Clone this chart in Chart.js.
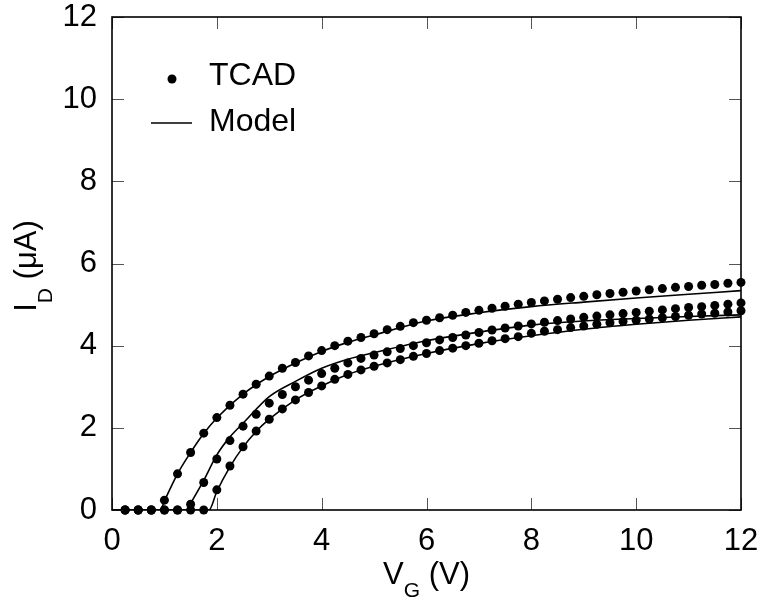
<!DOCTYPE html>
<html>
<head>
<meta charset="utf-8">
<script src="https://cdn.jsdelivr.net/npm/chart.js@4/dist/chart.umd.min.js"></script>
<style>
  html, body { margin: 0; padding: 0; background: #fff; }
  #wrap { width: 762px; height: 601px; position: relative; }
</style>
</head>
<body>
<div id="wrap"><canvas id="chart"></canvas></div>
<script>
// gate voltage grid of the TCAD points (V)
const vg = [0.25, 0.5, 0.75, 1.0, 1.25, 1.5, 1.75, 2.0, 2.25, 2.5, 2.75, 3.0,
  3.25, 3.5, 3.75, 4.0, 4.25, 4.5, 4.75, 5.0, 5.25, 5.5, 5.75, 6.0,
  6.25, 6.5, 6.75, 7.0, 7.25, 7.5, 7.75, 8.0, 8.25, 8.5, 8.75, 9.0,
  9.25, 9.5, 9.75, 10.0, 10.25, 10.5, 10.75, 11.0, 11.25, 11.5, 11.75, 12.0];

// TCAD drain current (uA)
const tcadA = [0, 0, 0, 0.24, 0.88, 1.40, 1.87, 2.25, 2.55, 2.82, 3.06, 3.26,
  3.45, 3.59, 3.75, 3.88, 4.00, 4.11, 4.20, 4.29, 4.39, 4.47, 4.56, 4.62,
  4.68, 4.74, 4.81, 4.86, 4.91, 4.96, 5.01, 5.05, 5.09, 5.13, 5.17, 5.20,
  5.24, 5.27, 5.30, 5.33, 5.36, 5.39, 5.42, 5.44, 5.47, 5.49, 5.52, 5.54];
const tcadB = [0, 0, 0, 0, 0, 0.14, 0.67, 1.24, 1.69, 2.04, 2.33, 2.60,
  2.81, 3.00, 3.16, 3.32, 3.45, 3.58, 3.69, 3.77, 3.85, 3.93, 4.00, 4.07,
  4.14, 4.20, 4.26, 4.32, 4.38, 4.43, 4.48, 4.53, 4.57, 4.61, 4.65, 4.69,
  4.72, 4.75, 4.78, 4.81, 4.84, 4.87, 4.90, 4.93, 4.95, 4.98, 5.01, 5.04];
const tcadC = [0, 0, 0, 0, 0, 0, 0, 0.49, 1.07, 1.54, 1.92, 2.21,
  2.46, 2.68, 2.86, 3.02, 3.18, 3.30, 3.41, 3.50, 3.58, 3.66, 3.74, 3.81,
  3.88, 3.94, 4.00, 4.06, 4.12, 4.17, 4.22, 4.30, 4.35, 4.39, 4.44, 4.48,
  4.52, 4.56, 4.59, 4.62, 4.65, 4.68, 4.71, 4.74, 4.77, 4.79, 4.82, 4.85];

// model curves
const modelAx = [0, 0.92, 1.0, 1.25, 1.5, 1.75, 2.0, 2.5, 3.0, 3.5, 4.0, 4.5, 5, 6, 7, 8, 9, 10, 11, 12];
const modelAy = [0, 0, 0.22, 0.88, 1.40, 1.86, 2.24, 2.82, 3.25, 3.58, 3.86, 4.08, 4.26, 4.60, 4.80, 4.95, 5.06, 5.16, 5.25, 5.34];
const modelBx = [0, 1.43, 1.5, 1.75, 2.0, 2.25, 2.5, 3.0, 3.5, 4.0, 4.5, 5, 6, 7, 8, 9, 10, 11, 12];
const modelBy = [0, 0, 0.16, 0.72, 1.34, 1.78, 2.11, 2.76, 3.13, 3.45, 3.67, 3.83, 4.12, 4.33, 4.50, 4.60, 4.66, 4.71, 4.75];
const modelCx = [0, 1.85, 2.0, 2.25, 2.5, 2.75, 3.0, 3.5, 4.0, 4.5, 5, 6, 7, 8, 9, 10, 11, 12];
const modelCy = [0, 0, 0.45, 1.05, 1.53, 1.91, 2.21, 2.68, 3.02, 3.30, 3.50, 3.81, 4.05, 4.24, 4.40, 4.52, 4.62, 4.70];

const xTicks = [0, 2, 4, 6, 8, 10, 12];
const yTicks = [0, 2, 4, 6, 8, 10, 12];

const FONT = "'Liberation Sans', Arial, sans-serif";

function pts(xs, ys) {
  return xs.map((x, i) => ({ x: x, y: ys[i] }));
}

function tcadSet(ys) {
  return {
    data: pts(vg, ys),
    showLine: false,
    pointRadius: 4.5,
    pointBackgroundColor: '#000',
    pointBorderWidth: 0,
    clip: false
  };
}

function modelSet(xs, ys) {
  return {
    data: pts(xs, ys),
    showLine: true,
    borderColor: '#000',
    borderWidth: 1.6,
    pointRadius: 0,
    cubicInterpolationMode: 'monotone',
    fill: false
  };
}

// frame, inward ticks, axis titles and legend
const decor = {
  id: 'decor',
  afterDatasetsDraw(chart) {
    const c = chart.ctx;
    const a = chart.chartArea;
    const xs = chart.scales.x, ys = chart.scales.y;
    const tl = 12;
    c.save();
    c.strokeStyle = '#555';
    c.lineWidth = 1;
    xTicks.forEach(v => {
      const px = Math.round(xs.getPixelForValue(v)) + 0.5;
      c.beginPath();
      c.moveTo(px, a.bottom); c.lineTo(px, a.bottom - tl);
      c.moveTo(px, a.top); c.lineTo(px, a.top + tl);
      c.stroke();
    });
    yTicks.forEach(v => {
      const py = Math.round(ys.getPixelForValue(v)) + 0.5;
      c.beginPath();
      c.moveTo(a.left, py); c.lineTo(a.left + tl, py);
      c.moveTo(a.right, py); c.lineTo(a.right - tl, py);
      c.stroke();
    });
    c.strokeStyle = '#000';
    c.lineWidth = 1.6;
    c.strokeRect(a.left, a.top, a.right - a.left, a.bottom - a.top);

    c.fillStyle = '#000';
    c.textBaseline = 'alphabetic';

    // x title: V_G (V)
    const big = '31px ' + FONT, sub = '21px ' + FONT;
    c.font = big; const wV = c.measureText('V').width; const wR = c.measureText(' (V)').width;
    c.font = sub; const wG = c.measureText('G').width;
    let x0 = (a.left + a.right) / 2 - (wV + wG + wR) / 2;
    const by = 584;
    c.font = big; c.fillText('V', x0, by);
    c.font = sub; c.fillText('G', x0 + wV, by + 13);
    c.font = big; c.fillText(' (V)', x0 + wV + wG, by);

    // y title: I_D (uA)
    c.save();
    c.translate(36, 266);
    c.rotate(-Math.PI / 2);
    c.font = big; const wI = c.measureText('I').width; const wU = c.measureText(' (\u03bcA)').width;
    c.font = sub; const wD = c.measureText('D').width;
    let y0 = -(wI + wD + wU) / 2;
    c.font = big; c.fillText('I', y0, 0);
    c.font = sub; c.fillText('D', y0 + wI, 16);
    c.font = big; c.fillText(' (\u03bcA)', y0 + wI + wD, 0);
    c.restore();

    // legend
    c.font = '32px ' + FONT;
    c.beginPath();
    c.arc(172, 79, 4.5, 0, Math.PI * 2);
    c.fill();
    c.fillText('TCAD', 209, 85);
    c.beginPath();
    c.lineWidth = 1.3;
    c.moveTo(151, 123); c.lineTo(192, 123);
    c.stroke();
    c.fillText('Model', 209, 131);
    c.restore();
  }
};

new Chart(document.getElementById('chart'), {
  type: 'scatter',
  data: {
    datasets: [
      tcadSet(tcadA), tcadSet(tcadB), tcadSet(tcadC),
      modelSet(modelAx, modelAy), modelSet(modelBx, modelBy), modelSet(modelCx, modelCy)
    ]
  },
  options: {
    responsive: true,
    maintainAspectRatio: false,
    animation: false,
    layout: { padding: { top: 17, right: 21, left: 0, bottom: 0 } },
    plugins: { legend: { display: false }, tooltip: { enabled: false } },
    scales: {
      x: {
        type: 'linear', min: 0, max: 12,
        grid: { display: false },
        border: { display: false },
        afterBuildTicks: s => { s.ticks = xTicks.map(v => ({ value: v })); },
        afterFit: s => { s.height = 91; s.paddingLeft = 0; s.paddingRight = 0; },
        ticks: { color: '#000', padding: 5, maxRotation: 0, font: { family: FONT, size: 31 } }
      },
      y: {
        type: 'linear', min: 0, max: 12,
        grid: { display: false },
        border: { display: false },
        afterBuildTicks: s => { s.ticks = yTicks.map(v => ({ value: v })); },
        afterFit: s => { s.width = 112; s.paddingTop = 0; s.paddingBottom = 0; },
        ticks: { color: '#000', padding: 7, font: { family: FONT, size: 31 } }
      }
    }
  },
  plugins: [decor]
});
</script>
</body>
</html>
